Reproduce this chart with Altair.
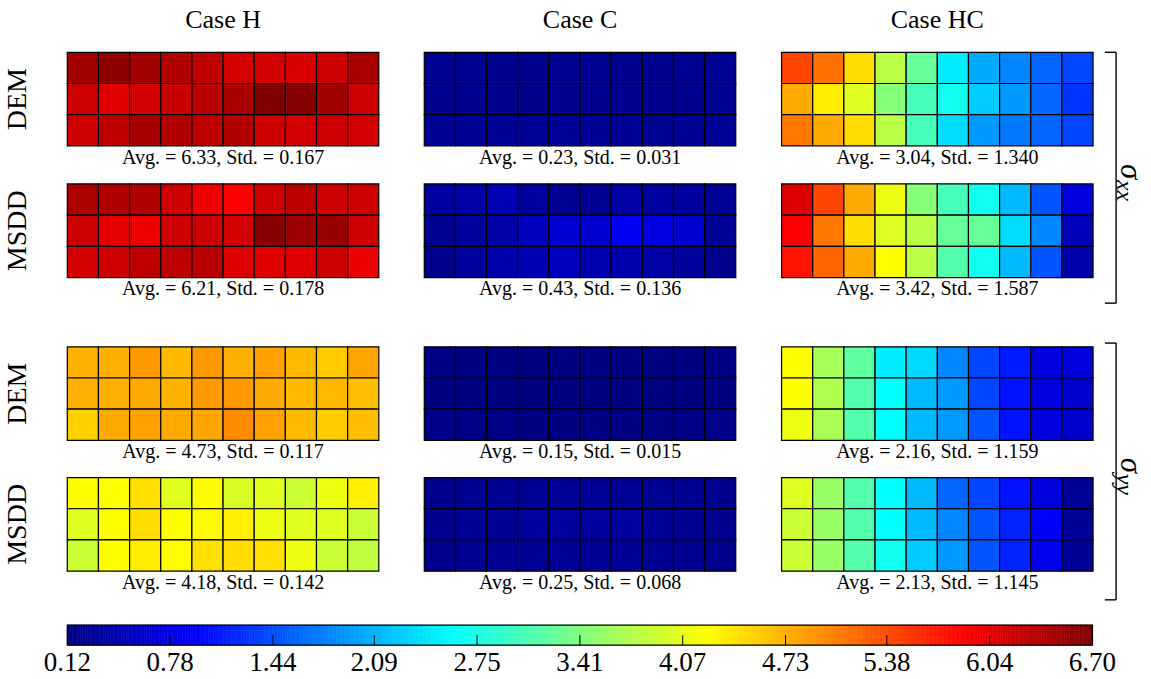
import altair as alt
import pandas as pd
import numpy as np

# ---------------- data ----------------
CASES = ["Case H", "Case C", "Case HC"]
METHODS = ["DEM", "MSDD", "DEM", "MSDD"]

H_DEM_XX = [[6.49, 6.62, 6.49, 6.39, 6.29, 6.17, 6.17, 6.12, 6.21, 6.44],
            [6.21, 6.07, 6.17, 6.24, 6.34, 6.44, 6.70, 6.67, 6.49, 6.21],
            [6.21, 6.31, 6.46, 6.39, 6.31, 6.39, 6.21, 6.17, 6.21, 6.17]]
C_DEM_XX = [[0.24, 0.23, 0.22, 0.22, 0.23, 0.23, 0.22, 0.21, 0.23, 0.24],
            [0.22, 0.21, 0.19, 0.17, 0.20, 0.21, 0.21, 0.21, 0.22, 0.23],
            [0.26, 0.26, 0.25, 0.27, 0.27, 0.26, 0.25, 0.24, 0.25, 0.27]]
HC_DEM_XX = [[5.43, 5.15, 4.45, 3.79, 3.25, 2.47, 2.04, 1.81, 1.60, 1.39],
             [4.78, 4.35, 4.02, 3.46, 3.03, 2.70, 2.26, 1.93, 1.60, 1.27],
             [5.10, 4.78, 4.45, 3.79, 3.03, 2.37, 1.93, 1.72, 1.60, 1.39]]

H_MSDD_XX = [[6.42, 6.39, 6.39, 6.21, 5.98, 5.88, 6.21, 6.32, 6.21, 6.21],
             [6.21, 6.04, 5.98, 6.21, 6.21, 6.17, 6.65, 6.52, 6.54, 6.21],
             [6.17, 6.21, 6.31, 6.31, 6.34, 6.09, 6.07, 6.09, 6.21, 6.00]]
C_MSDD_XX = [[0.33, 0.36, 0.46, 0.31, 0.23, 0.23, 0.36, 0.33, 0.31, 0.26],
             [0.23, 0.31, 0.36, 0.53, 0.64, 0.64, 0.86, 0.76, 0.64, 0.26],
             [0.20, 0.31, 0.41, 0.46, 0.53, 0.43, 0.41, 0.36, 0.31, 0.22]]
HC_MSDD_XX = [[6.09, 5.43, 4.78, 4.12, 3.46, 3.03, 2.70, 2.14, 1.49, 0.73],
              [5.88, 5.10, 4.45, 4.02, 3.79, 3.25, 3.25, 2.37, 1.81, 0.50],
              [5.76, 5.22, 4.78, 4.23, 3.79, 3.13, 2.70, 2.14, 1.49, 0.40]]

H_DEM_YY = [[4.73, 4.74, 4.89, 4.68, 4.89, 4.74, 4.84, 4.68, 4.56, 4.81],
            [4.74, 4.74, 4.78, 4.73, 4.88, 4.89, 4.78, 4.68, 4.70, 4.65],
            [4.53, 4.78, 4.84, 4.78, 4.80, 4.98, 4.84, 4.68, 4.56, 4.65]]
C_DEM_YY = [[0.16, 0.15, 0.15, 0.14, 0.14, 0.15, 0.14, 0.14, 0.15, 0.16],
            [0.15, 0.14, 0.14, 0.13, 0.13, 0.14, 0.14, 0.13, 0.14, 0.15],
            [0.17, 0.16, 0.16, 0.15, 0.15, 0.15, 0.15, 0.15, 0.16, 0.17]]
HC_DEM_YY = [[4.23, 3.67, 3.21, 2.47, 2.34, 1.81, 1.39, 1.11, 0.73, 0.70],
             [4.23, 3.72, 3.13, 2.59, 2.14, 1.93, 1.39, 1.06, 0.73, 0.61],
             [4.12, 3.69, 3.13, 2.59, 2.14, 1.93, 1.49, 1.06, 0.73, 0.61]]

H_MSDD_YY = [[4.23, 4.23, 4.43, 4.04, 4.23, 3.99, 4.04, 3.90, 4.12, 4.33],
             [4.04, 4.23, 4.45, 4.23, 4.26, 4.33, 4.12, 4.04, 4.04, 3.90],
             [3.90, 4.23, 4.35, 4.26, 4.43, 4.45, 4.43, 4.12, 3.90, 3.82]]
C_MSDD_YY = [[0.22, 0.23, 0.24, 0.25, 0.26, 0.26, 0.25, 0.24, 0.23, 0.21],
             [0.22, 0.25, 0.27, 0.30, 0.31, 0.31, 0.30, 0.27, 0.24, 0.21],
             [0.20, 0.23, 0.25, 0.27, 0.28, 0.28, 0.27, 0.25, 0.23, 0.20]]
HC_MSDD_YY = [[4.02, 3.57, 3.13, 2.59, 2.14, 1.60, 1.39, 1.06, 0.73, 0.28],
              [3.90, 3.57, 3.13, 2.59, 2.14, 1.81, 1.49, 1.16, 0.94, 0.28],
              [3.90, 3.57, 3.13, 2.70, 2.26, 1.93, 1.49, 1.16, 0.83, 0.28]]

GRID = [[H_DEM_XX, C_DEM_XX, HC_DEM_XX],
        [H_MSDD_XX, C_MSDD_XX, HC_MSDD_XX],
        [H_DEM_YY, C_DEM_YY, HC_DEM_YY],
        [H_MSDD_YY, C_MSDD_YY, HC_MSDD_YY]]

AVG = [["6.33", "0.23", "3.04"], ["6.21", "0.43", "3.42"],
       ["4.73", "0.15", "2.16"], ["4.18", "0.25", "2.13"]]
STD = [["0.167", "0.031", "1.340"], ["0.178", "0.136", "1.587"],
       ["0.117", "0.015", "1.159"], ["0.142", "0.068", "1.145"]]

CB_TICKS = [0.12, 0.78, 1.44, 2.09, 2.75, 3.41, 4.07, 4.73, 5.38, 6.04, 6.70]
CB_LABELS = ["0.12", "0.78", "1.44", "2.09", "2.75", "3.41", "4.07", "4.73", "5.38", "6.04", "6.70"]
VMIN, VMAX = 0.12, 6.70
JET = ["#000080", "#0000ff", "#00ffff", "#ffff00", "#ff0000", "#800000"]
JET_POS = [0, 0.125, 0.375, 0.625, 0.875, 1]

# ---------------- layout (cell units) ----------------
COL_OFF = [0, 11.46, 22.93]
ROW_OFF = [0, 4.22, 9.44, 13.63]
FONT = "Liberation Serif"

X = alt.Scale(domain=[-2.1605, 34.790], nice=False, zero=False)
Y = alt.Scale(domain=[-1.676, 20.087], nice=False, zero=False, reverse=True)
CBX = alt.Scale(domain=[-0.312, 7.0755], nice=False, zero=False)
COLOR = alt.Scale(domain=[VMIN + p * (VMAX - VMIN) for p in JET_POS], range=JET, interpolate="rgb")

cells = []
for r, rowpanels in enumerate(GRID):
    for c, panel in enumerate(rowpanels):
        for j, vals in enumerate(panel):
            for i, v in enumerate(vals):
                cells.append(dict(x=COL_OFF[c] + i, x2=COL_OFF[c] + i + 1,
                                  y=ROW_OFF[r] + j, y2=ROW_OFF[r] + j + 1, v=v))
cells = pd.DataFrame(cells)

heat = alt.Chart(cells).mark_rect(stroke="black", strokeWidth=1.2).encode(
    x=alt.X("x:Q", scale=X, axis=None), x2="x2:Q",
    y=alt.Y("y:Q", scale=Y, axis=None), y2="y2:Q",
    color=alt.Color("v:Q", scale=COLOR, legend=None),
)

avg_df = pd.DataFrame([dict(x=COL_OFF[c] + 5, y=ROW_OFF[r] + 3.38,
                            t=f"Avg. = {AVG[r][c]}, Std. = {STD[r][c]}")
                       for r in range(4) for c in range(3)])
avg_txt = alt.Chart(avg_df).mark_text(font=FONT, fontSize=20, baseline="middle", color="black").encode(
    x=alt.X("x:Q", scale=X, axis=None), y=alt.Y("y:Q", scale=Y, axis=None), text="t:N")

title_df = pd.DataFrame([dict(x=COL_OFF[c] + 5, y=-1.035, t=CASES[c]) for c in range(3)])
title_txt = alt.Chart(title_df).mark_text(font=FONT, fontSize=26, baseline="middle", color="black").encode(
    x=alt.X("x:Q", scale=X, axis=None), y=alt.Y("y:Q", scale=Y, axis=None), text="t:N")

row_df = pd.DataFrame([dict(x=-1.58, y=ROW_OFF[r] + 1.5, t=METHODS[r]) for r in range(4)])
row_txt = alt.Chart(row_df).mark_text(font=FONT, fontSize=28, angle=270, baseline="middle", color="black").encode(
    x=alt.X("x:Q", scale=X, axis=None), y=alt.Y("y:Q", scale=Y, axis=None), text="t:N")

BR = [(0.0, 8.04), (9.32, 17.55)]
BX_IN, BX_OUT = 33.31, 33.67
seg = []
for (a, b) in BR:
    seg.append(dict(x=BX_OUT, x2=BX_OUT, y=a, y2=b))
    seg.append(dict(x=BX_IN, x2=BX_OUT, y=a, y2=a))
    seg.append(dict(x=BX_IN, x2=BX_OUT, y=b, y2=b))
brackets = alt.Chart(pd.DataFrame(seg)).mark_rule(color="black", strokeWidth=1.4).encode(
    x=alt.X("x:Q", scale=X, axis=None), x2="x2:Q",
    y=alt.Y("y:Q", scale=Y, axis=None), y2="y2:Q")

SIG = [("xx", (BR[0][0] + BR[0][1]) / 2), ("yy", (BR[1][0] + BR[1][1]) / 2)]
sig_df = pd.DataFrame([dict(x=34.12, y=yc + 0.05, t="σ") for _, yc in SIG])
sub_df = pd.DataFrame([dict(x=33.93, y=yc + 0.07, t=s) for s, yc in SIG])
sig_txt = alt.Chart(sig_df).mark_text(font=FONT, fontSize=31, fontStyle="italic", angle=90,
                                      align="right", baseline="middle", color="black").encode(
    x=alt.X("x:Q", scale=X, axis=None), y=alt.Y("y:Q", scale=Y, axis=None), text="t:N")
sub_txt = alt.Chart(sub_df).mark_text(font=FONT, fontSize=24, fontStyle="italic", angle=90,
                                      align="left", baseline="middle", color="black").encode(
    x=alt.X("x:Q", scale=X, axis=None), y=alt.Y("y:Q", scale=Y, axis=None), text="t:N")

main = alt.layer(heat, avg_txt, title_txt, row_txt, brackets, sig_txt, sub_txt)

# ---------------- colorbar ----------------
CB_Y0, CB_Y1, CB_YM, CB_YL = 18.36, 19.0, 18.68, 19.57
edges = np.linspace(VMIN, VMAX, 401)
cb_df = pd.DataFrame(dict(a=edges[:-1], b=edges[1:], m=(edges[:-1] + edges[1:]) / 2,
                          y0=CB_Y0, y1=CB_Y1))
cb_rect = alt.Chart(cb_df).mark_rect(strokeWidth=0.6).encode(
    x=alt.X("a:Q", scale=CBX, axis=None), x2="b:Q",
    y=alt.Y("y0:Q", scale=Y, axis=None), y2="y1:Q",
    color=alt.Color("m:Q", scale=COLOR, legend=None),
    stroke=alt.Color("m:Q", scale=COLOR, legend=None))

frame_df = pd.DataFrame([dict(a=VMIN, b=VMAX, y0=CB_Y0, y1=CB_Y1)])
cb_frame = alt.Chart(frame_df).mark_rect(fill=None, stroke="black", strokeWidth=1.2).encode(
    x=alt.X("a:Q", scale=CBX, axis=None), x2="b:Q",
    y=alt.Y("y0:Q", scale=Y, axis=None), y2="y1:Q")

tick_df = pd.DataFrame(dict(v=CB_TICKS[1:-1], y0=CB_YM, y1=CB_Y1))
cb_ticks = alt.Chart(tick_df).mark_rule(color="black", strokeWidth=1).encode(
    x=alt.X("v:Q", scale=CBX, axis=None),
    y=alt.Y("y0:Q", scale=Y, axis=None), y2="y1:Q")

lab_df = pd.DataFrame(dict(v=CB_TICKS, t=CB_LABELS, y=CB_YL))
cb_labels = alt.Chart(lab_df).mark_text(font=FONT, fontSize=27, baseline="middle", color="black").encode(
    x=alt.X("v:Q", scale=CBX, axis=None), y=alt.Y("y:Q", scale=Y, axis=None), text="t:N")

cbar = alt.layer(cb_rect, cb_frame, cb_ticks, cb_labels)

chart = alt.layer(main, cbar).resolve_scale(x="independent").properties(
    width=1151, height=679, autosize=alt.AutoSizeParams(type="none"), padding=0,
    background="white",
).configure_view(stroke=None)

chart.save("out.html", embed_options={"renderer": "svg", "actions": False})
